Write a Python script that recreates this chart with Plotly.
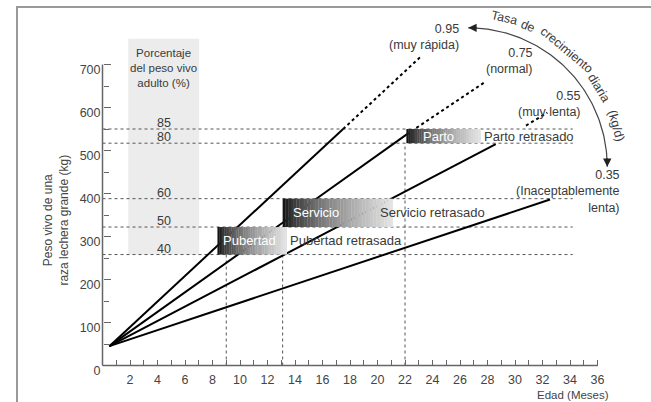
import numpy as np
import plotly.graph_objects as go

# ---------------- data ----------------
rate_values = ["0.95", "0.75", "0.55", "0.35"]
rate_notes = ["(muy rápida)", "(normal)", "(muy lenta)", "(Inaceptablemente<br>lenta)"]
rate_label_month = [26.1, 31.45, 34.95, 37.8]   # right edge of label block
rate_label_kg = [765, 709, 608, 404]            # centre of label block

birth_month = 0.5
birth_kg = 45
solid_end_month = [17.5, 22.1, 28.6, 32.55]
solid_end_kg = [550, 537, 515, 386]
dotted_start_month = [17.5, 22.1, 30.8, None]
dotted_start_kg = [550, 537, 558, None]
dotted_end_month = [23.1, 27.85, 32.35, None]
dotted_end_kg = [717, 660, 588, None]

pct_labels = ["85", "80", "60", "50", "40"]
pct_kg = [550, 517, 388, 322, 258]
pct_title = "Porcentaje<br>del peso vivo<br>adulto (%)"

event_names = ["Pubertad", "Servicio", "Parto"]
event_delayed = ["Pubertad retrasada", "Servicio retrasado", "Parto retrasado"]
event_month = [9.0, 13.1, 22.0]
event_start = [8.36, 13.1, 22.1]
event_end = [13.4, 21.1, 27.5]
event_low = [258, 322, 517]
event_high = [322, 388, 550]
event_text_month = [10.7, 15.5, 24.4]
event_delayed_month = [13.5, 20.0, 27.6]

x_ticks = list(range(2, 37, 2))
x_minor = list(range(1, 36, 2))
y_ticks = list(range(0, 701, 100))
y_minor = list(range(50, 700, 100))

arc_words = ["Tasa", "de", "crecimiento", "diaria", "(kg/d)"]
arc_word_angle = [13.7, 22.8, 40.0, 58.8, 74.3]

# ---------------- geometry of the canvas ----------------
W, H = 651, 402
X0_PX, PX_PER_MONTH = 102.5, 13.75
Y0_PX, PX_PER_KG = 365.5, 0.43
x_range = [(0 - X0_PX) / PX_PER_MONTH, (W - X0_PX) / PX_PER_MONTH]
y_range = [(Y0_PX - H) / PX_PER_KG, Y0_PX / PX_PER_KG]
frame_left = (17 - X0_PX) / PX_PER_MONTH
frame_top = (Y0_PX - 7) / PX_PER_KG

FONT = "Liberation Sans, Arial, Helvetica, sans-serif"
TXT = "#3a3a3a"

fig = go.Figure()

# growth lines
for i in range(len(rate_values)):
    fig.add_trace(go.Scatter(
        x=[birth_month, solid_end_month[i]], y=[birth_kg, solid_end_kg[i]],
        mode="lines", line=dict(color="black", width=2), hoverinfo="skip", showlegend=False))
    if dotted_start_month[i] is not None:
        fig.add_trace(go.Scatter(
            x=[dotted_start_month[i], dotted_end_month[i]], y=[dotted_start_kg[i], dotted_end_kg[i]],
            mode="lines", line=dict(color="black", width=2, dash="dot"), hoverinfo="skip", showlegend=False))

# arc for "Tasa de crecimiento diaria"
arc_cx, arc_cy, arc_r_px = 26.6, 462, 139
theta = np.linspace(0, np.pi / 2, 80)
fig.add_trace(go.Scatter(
    x=arc_cx + arc_r_px * np.cos(theta) / PX_PER_MONTH,
    y=arc_cy + arc_r_px * np.sin(theta) / PX_PER_KG,
    mode="lines", line=dict(color="#444", width=1.2), hoverinfo="skip", showlegend=False))

# outer frame (left and top edges) drawn as a trace
fig.add_trace(go.Scatter(
    x=[frame_left, frame_left, x_range[1]], y=[y_range[0], frame_top, frame_top],
    mode="lines", line=dict(color="#999", width=2), hoverinfo="skip", showlegend=False, cliponaxis=False))

shapes = []
# grey percentage column
shapes.append(dict(type="rect", xref="x", yref="y", x0=1.87, x1=7.03, y0=pct_kg[-1], y1=760,
                   fillcolor="#ececec", line=dict(width=0), layer="below"))
# horizontal dotted lines
for k in pct_kg:
    shapes.append(dict(type="line", xref="x", yref="y", x0=0, x1=34.2, y0=k, y1=k,
                       line=dict(color="#555", width=1, dash="dot"), layer="below"))
# vertical dotted lines
for m, top in zip(event_month, event_low):
    shapes.append(dict(type="line", xref="x", yref="y", x0=m, x1=m, y0=0, y1=top,
                       line=dict(color="#555", width=1, dash="dot"), layer="below"))
# axis lines
shapes.append(dict(type="line", xref="x", yref="y", x0=0, x1=0, y0=0, y1=700,
                   line=dict(color="#666", width=1.5)))
shapes.append(dict(type="line", xref="x", yref="y", x0=0, x1=36, y0=0, y1=0,
                   line=dict(color="#666", width=1.5)))
# gradient boxes
N = 40
for i in range(len(event_names)):
    edges = np.linspace(event_start[i], event_end[i], N + 1)
    for j in range(N):
        t = (j + 0.5) / N
        g = int(255 * (0.03 + 0.87 * t ** 0.65))
        shapes.append(dict(type="rect", xref="x", yref="y", x0=edges[j], x1=edges[j + 1] + 0.02,
                           y0=event_low[i], y1=event_high[i],
                           fillcolor=f"rgb({g},{g},{g})", line=dict(width=0), layer="above"))

ann = []
def text(x, y, s, size=12.5, color=TXT, xanchor="center", yanchor="middle", angle=0, yshift=0, align="center"):
    ann.append(dict(x=x, y=y, xref="x", yref="y", text=s, showarrow=False,
                    font=dict(family=FONT, size=size, color=color), align=align,
                    xanchor=xanchor, yanchor=yanchor, textangle=angle, yshift=yshift))

# percentage labels
for lab, k in zip(pct_labels, pct_kg):
    text(4.45, k, lab, size=12.5, yanchor="bottom", yshift=-3)
text(4.4, 693, pct_title, size=11.5)

# event labels
for i in range(len(event_names)):
    mid = (event_low[i] + event_high[i]) / 2
    text(event_text_month[i], mid, event_names[i], size=13, color="white")
    text(event_delayed_month[i], mid, event_delayed[i], size=13, xanchor="left")

# rate labels
for i in range(len(rate_values)):
    text(rate_label_month[i], rate_label_kg[i], rate_values[i] + "<br>" + rate_notes[i],
         size=12.5, xanchor="right", align="right")

# arc words
word_r = 153
for w, a in zip(arc_words, arc_word_angle):
    r = np.radians(a)
    text(arc_cx + word_r * np.sin(r) / PX_PER_MONTH, arc_cy + word_r * np.cos(r) / PX_PER_KG,
         w, angle=a, size=12.5)

# arrow heads on the arc
ann.append(dict(x=arc_cx, y=arc_cy + arc_r_px / PX_PER_KG, xref="x", yref="y", ax=10, ay=0,
                axref="pixel", ayref="pixel", showarrow=True, arrowhead=2, arrowsize=1.4,
                arrowwidth=1.2, arrowcolor="#222", text=""))
ann.append(dict(x=arc_cx + arc_r_px / PX_PER_MONTH, y=arc_cy, xref="x", yref="y", ax=0, ay=-10,
                axref="pixel", ayref="pixel", showarrow=True, arrowhead=2, arrowsize=1.4,
                arrowwidth=1.2, arrowcolor="#222", text=""))

# axis titles
text(-3.35, 338, "Peso vivo de una<br>raza lechera grande (kg)", size=12, angle=-90, color="#444")
text(34.2, -68.6, "Edad (Meses)", size=11.5, color="#444")

fig.update_layout(
    width=W, height=H, margin=dict(l=0, r=0, t=0, b=0, pad=0, autoexpand=False),
    paper_bgcolor="white", plot_bgcolor="white", showlegend=False,
    shapes=shapes, annotations=ann,
    font=dict(family=FONT, size=12, color="#444"),
    xaxis=dict(range=x_range, domain=[0, 1], anchor="free", position=(H - Y0_PX) / H,
               automargin=False, ticklabelstandoff=5,
               showgrid=False, zeroline=False, showline=False,
               tickmode="array", tickvals=x_ticks, ticktext=[str(v) for v in x_ticks],
               ticks="inside", ticklen=6, tickwidth=1, tickcolor="#666",
               minor=dict(tickvals=x_minor, ticks="inside", ticklen=6, tickwidth=1, tickcolor="#666"),
               tickfont=dict(family=FONT, size=12.5, color="#444")),
    yaxis=dict(range=y_range, domain=[0, 1], anchor="free", position=X0_PX / W,
               automargin=False, ticklabelstandoff=2, ticklabelshift=5,
               showgrid=False, zeroline=False, showline=False,
               tickmode="array", tickvals=y_ticks, ticktext=[str(v) for v in y_ticks],
               ticks="inside", ticklen=7, tickwidth=1, tickcolor="#666",
               minor=dict(tickvals=y_minor, ticks="inside", ticklen=5, tickwidth=1, tickcolor="#666"),
               tickfont=dict(family=FONT, size=12.5, color="#444")),
)

fig.write_html("out.html", config={"displayModeBar": False},
               post_script="document.body.style.margin='0';document.body.style.overflow='hidden';")
